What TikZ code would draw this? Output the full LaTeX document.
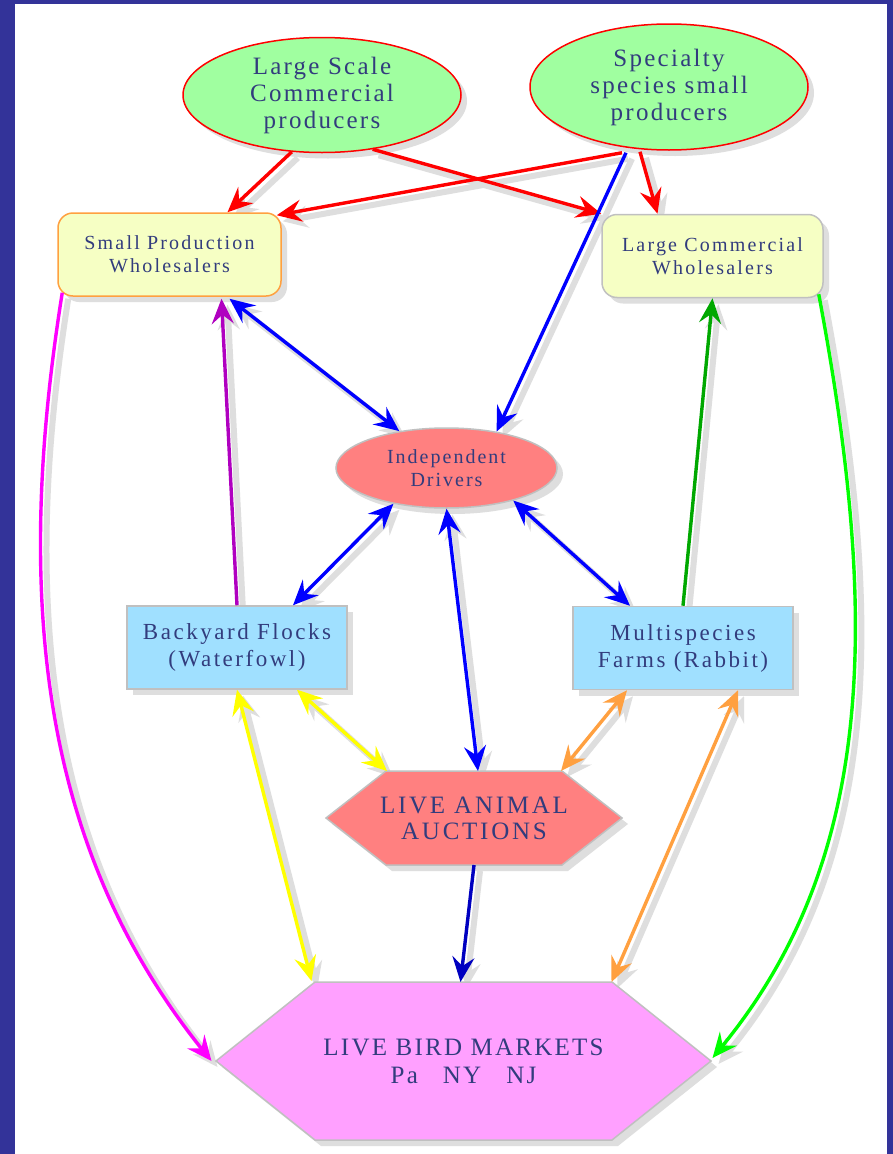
\documentclass[tikz,border=0pt]{standalone}
\usepackage{fontspec}
\setmainfont{Liberation Serif}
\usetikzlibrary{shapes.geometric,shadows,arrows.meta,calc}
\definecolor{frameblue}{RGB}{51,51,153}
\definecolor{textblue}{RGB}{50,60,125}
\definecolor{shadowgray}{RGB}{222,222,222}
\definecolor{bordergray}{RGB}{192,192,192}
\definecolor{lgreenfill}{RGB}{160,255,160}
\definecolor{yellowfill}{RGB}{246,255,196}
\definecolor{salmonfill}{RGB}{255,128,128}
\definecolor{bluefill}{RGB}{160,224,255}
\definecolor{pinkfill}{RGB}{255,160,255}
\definecolor{orngline}{RGB}{255,160,64}
\definecolor{purpline}{RGB}{176,0,192}
\definecolor{dgreenline}{RGB}{0,168,0}
\definecolor{lgreenline}{RGB}{0,255,0}
\definecolor{yelline}{RGB}{255,255,0}
\definecolor{dblueline}{RGB}{0,0,192}
\definecolor{magline}{RGB}{255,0,255}
\pgfdeclarelayer{bg}
\pgfdeclarelayer{eshadow}
\pgfdeclarelayer{hexl}
\pgfsetlayers{bg,eshadow,hexl,main}
\newcommand\alledges{%
 \draw[ar, ec=red] (lsc.-118) -- ([shift={(58,0)}]spw.north);
 \draw[ar, ec=red] (lsc.-47) -- (lcw.north west);
 \draw[ar, ec=red] ([shift={(-47,2)}]ssp.south) -- ([shift={(-5,3)}]spw.north east);
 \draw[ar, ec=red] ([shift={(-29,1)}]ssp.south) -- ([shift={(-55,0)}]lcw.north);
 \draw[ar, ec=blue] ([shift={(-43,2)}]ssp.south) -- (idr.36);
 \draw[dar, ec=blue] ([shift={(60,2)}]spw.south) -- (idr.142);
 \draw[ar, ec=purpline] (byf.north) -- ([shift={(52,2)}]spw.south);
 \draw[ar, ec=dgreenline] (msf.north) -- (lcw.south);
 \draw[dar, ec=blue] (idr.-146) -- ([shift={(56,0)}]byf.north);
 \draw[dar, ec=blue] (idr.-26) -- ([shift={(-53,0)}]msf.north);
 \draw[dar, ec=blue] (idr.south) -- ([shift={(4,-47)}]auc.center);
 \draw[dar, ec=yelline] ([shift={(60,0)}]byf.south) -- ([shift={(-87,-47)}]auc.center);
 \draw[dar, ec=orngline] ([shift={(-56,0)}]msf.south) -- ([shift={(87,-47)}]auc.center);
 \draw[dar, ec=yelline] (byf.south) -- ([shift={(-152,-80)}]mk.center);
 \draw[dar, ec=orngline] ([shift={(55,0)}]msf.south) -- ([shift={(148,-79)}]mk.center);
 \draw[ar, ec=dblueline] ([shift={(0,47)}]auc.center) -- ([shift={(-3,-79)}]mk.center);
 \draw[ar, ec=magline] ([shift={(5,-4)}]spw.south west) .. controls (10,620) and (50,860) .. ([shift={(-252,0)}]mk.center);
 \draw[ar, ec=lgreenline] ([shift={(-5,-4)}]lcw.south east) .. controls (880,620) and (875,860) .. ([shift={(249,-3)}]mk.center);
}
\tikzset{
 txt/.style={text=textblue, align=center, inner sep=0pt},
 shad/.style={drop shadow={shadow xshift=6pt, shadow yshift=-6pt, fill=shadowgray, opacity=1}},
 topell/.style={txt, shad, ellipse, draw=red, line width=1.5pt, fill=lgreenfill,
   font={\fontsize{25}{27}\selectfont\addfontfeature{LetterSpace=9}}},
 whbox/.style={txt, shad, rectangle, rounded corners=15pt, line width=1.5pt, fill=yellowfill,
   minimum height=83pt, font={\fontsize{20}{23}\selectfont\addfontfeature{LetterSpace=11}}},
 farmbox/.style={txt, shad, rectangle, draw=bordergray, line width=1.5pt, fill=bluefill,
   minimum width=220pt, minimum height=83pt, font={\fontsize{23}{27}\selectfont\addfontfeature{LetterSpace=11}}},
 hexborder/.style n args={4}{insert path={([shift={(-#2,-#3)}]#1.center) -- ([shift={(#2,-#3)}]#1.center) -- ([shift={(#2+#4,0)}]#1.center) -- ([shift={(#2,#3)}]#1.center) -- ([shift={(-#2,#3)}]#1.center) -- ([shift={(-#2-#4,0)}]#1.center) -- cycle}},
 tip/.tip={Stealth[length=25pt,width=22pt,inset=9pt]},
 ar/.style={line width=3.4pt, -tip},
 dar/.style={line width=3.4pt, tip-tip},
}
\begin{document}
\begin{tikzpicture}[x=1pt,y=-1pt]
\useasboundingbox (0,0) rectangle (893,1154);
\begin{pgfonlayer}{bg}
\fill[frameblue] (0,0) rectangle (893,1154);
\fill[white] (15,4) rectangle (887,1154);
\end{pgfonlayer}

% nodes
\node[topell, minimum width=278pt, minimum height=115pt] (lsc) at (322,95) {Large Scale\\Commercial\\producers};
\node[topell, minimum width=278pt, minimum height=126pt] (ssp) at (669,87) {Specialty\\species small\\producers};
\node[whbox, draw=orngline, minimum width=223pt] (spw) at (169.5,254.5) {Small Production\\Wholesalers};
\node[whbox, draw=bordergray, minimum width=221pt] (lcw) at (712.5,256) {Large Commercial\\Wholesalers};
\node[txt, shad, ellipse, draw=bordergray, line width=1.5pt, fill=salmonfill, minimum width=221pt, minimum height=80pt,
  font={\fontsize{20}{23}\selectfont\addfontfeature{LetterSpace=10}}] (idr) at (446.5,468) {Independent\\Drivers};
\node[farmbox] (byf) at (237,647.5) {Backyard Flocks\\(Waterfowl)};
\node[farmbox] (msf) at (683,648) {Multispecies\\Farms (Rabbit)};
\node[txt, font={\fontsize{25}{26}\selectfont\addfontfeature{LetterSpace=11}}] (auc) at (474,818) {LIVE ANIMAL\\AUCTIONS};
\node[txt, font={\fontsize{25}{28}\selectfont\addfontfeature{LetterSpace=9}}] (mk) at (463.5,1061) {LIVE BIRD MARKETS\\Pa\quad NY\quad NJ};

\begin{pgfonlayer}{hexl}
 \begin{scope}[transform canvas={shift={(6,6)}}]
  \fill[shadowgray, hexborder={auc}{88}{47}{60}];
  \fill[shadowgray, hexborder={mk}{148.5}{79}{99}];
 \end{scope}
 \filldraw[fill=salmonfill, draw=bordergray, line width=1.5pt, hexborder={auc}{88}{47}{60}];
 \filldraw[fill=pinkfill, draw=bordergray, line width=1.5pt, hexborder={mk}{148.5}{79}{99}];
\end{pgfonlayer}

\begin{pgfonlayer}{eshadow}
 \begin{scope}[transform canvas={shift={(6,6)}}, ec/.style={draw=shadowgray, line width=6pt}]
  \alledges
 \end{scope}
\end{pgfonlayer}
\begin{scope}[ec/.style={draw=#1}]
 \alledges
\end{scope}
\end{tikzpicture}
\end{document}
